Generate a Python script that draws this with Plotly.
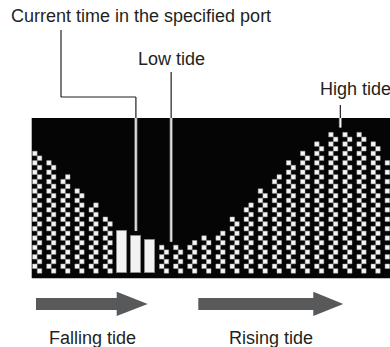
import plotly.graph_objects as go

# tide display: one column per time slot, height in dot rows
slots = list(range(26))
tide_rows = [26, 24, 21, 18, 15, 12, 9, 8, 7, 6, 6, 7, 8, 9, 12, 15,
             18, 21, 24, 26, 28, 30, 30, 30, 28, 25]
current_slots = [6, 7, 8]  # shown as solid bars
low_label = "Low tide"
high_label = "High tide"
current_label = "Current time in the specified port"
falling_label = "Falling tide"
rising_label = "Rising tide"

W, H = 390, 347
X0_PX, PITCH = 37.2, 14.1      # pixel centre of slot 0, slot spacing
Y0_PX, ROW = 273.3, 4.7        # pixel of row 0 base, row height


def px2x(px):
    return (px - X0_PX) / PITCH


def px2y(py):
    return (Y0_PX - py) / ROW


FONT = dict(family="Liberation Sans, Arial, sans-serif", size=18, color="#231f20")

# dots in a checker pattern, two sub-columns per slot
dot_x, dot_y = [], []
for s, h in zip(slots, tide_rows):
    if s in current_slots:
        continue
    for r in range(h):
        dot_x.append(s + (-1 / 6 if r % 2 else 1 / 6))
        dot_y.append(r + 0.5)

fig = go.Figure()

fig.add_trace(go.Scatter(
    x=dot_x, y=dot_y, mode="markers",
    marker=dict(symbol="square", size=4.5, color="#f6f6f6",
                line=dict(color="#a8a8a8", width=0.5)),
    hoverinfo="skip", cliponaxis=False
))

fig.add_trace(go.Bar(
    x=current_slots, y=[tide_rows[s] for s in current_slots],
    width=0.68, marker_color="#f2f2f2",
    marker_line=dict(color="#8c8c8c", width=1),
    hoverinfo="skip"
))

shapes = []
# black display panel
shapes.append(dict(type="rect", xref="x", yref="y", layer="below",
                   x0=px2x(31.7), x1=px2x(400), y0=px2y(278.3), y1=px2y(118),
                   fillcolor="#050505", line_width=0))

panel_top = px2y(118)


def leader(points):
    """points in data coords, top to bottom; split into outside/inside panel"""
    out, inside = [], []
    for (xa, ya), (xb, yb) in zip(points[:-1], points[1:]):
        if ya > panel_top and yb < panel_top:
            out.append(((xa, ya), (xb, panel_top)))
            inside.append(((xb, panel_top), (xb, yb)))
        elif yb >= panel_top:
            out.append(((xa, ya), (xb, yb)))
        else:
            inside.append(((xa, ya), (xb, yb)))
    for (a, b) in out:
        shapes.append(dict(type="line", xref="x", yref="y", x0=a[0], y0=a[1],
                           x1=b[0], y1=b[1], line=dict(color="#231f20", width=1.2)))
    for (a, b) in inside:
        shapes.append(dict(type="line", xref="x", yref="y", x0=a[0], y0=a[1],
                           x1=b[0], y1=b[1], line=dict(color="#8a8a8a", width=3)))
        shapes.append(dict(type="line", xref="x", yref="y", x0=a[0], y0=a[1],
                           x1=b[0], y1=b[1], line=dict(color="#ffffff", width=1.2)))


cur = current_slots[1]
leader([(px2x(61), px2y(30)), (px2x(61), px2y(97)), (cur, px2y(97)),
        (cur, tide_rows[cur] + 1)])
low_x = 9.5
leader([(low_x, px2y(72)), (low_x, min(tide_rows) + 0.7)])
high_x = 21.5
leader([(high_x, px2y(105)), (high_x, max(tide_rows) + 1)])


def arrow(x_start, x_neck, x_tip):
    ys0, ys1 = px2y(298), px2y(310)
    yh0, yh1, yc = px2y(291.7), px2y(316), px2y(304)
    path = (f"M {x_start},{ys0} L {x_neck},{ys0} L {x_neck},{yh0} L {x_tip},{yc} "
            f"L {x_neck},{yh1} L {x_neck},{ys1} L {x_start},{ys1} Z")
    shapes.append(dict(type="path", xref="x", yref="y", path=path,
                       fillcolor="#58595b", line_width=0))


arrow(px2x(36), px2x(116.7), px2x(147.7))
arrow(px2x(198.3), px2x(313.3), px2x(343.3))

annotations = [
    dict(text=current_label, x=px2x(9), y=px2y(16), xanchor="left", yanchor="middle"),
    dict(text=low_label, x=low_x, y=px2y(59), xanchor="center", yanchor="middle"),
    dict(text=high_label, x=px2x(318), y=px2y(89), xanchor="left", yanchor="middle"),
    dict(text=falling_label, x=px2x(92), y=px2y(338), xanchor="center", yanchor="middle"),
    dict(text=rising_label, x=px2x(271), y=px2y(338), xanchor="center", yanchor="middle"),
]
for a in annotations:
    a.update(xref="x", yref="y", showarrow=False, font=FONT)

fig.update_layout(
    width=W, height=H,
    margin=dict(l=0, r=0, t=0, b=0),
    paper_bgcolor="white", plot_bgcolor="white",
    showlegend=False,
    shapes=shapes, annotations=annotations,
    xaxis=dict(range=[px2x(0), px2x(W)], visible=False, fixedrange=True),
    yaxis=dict(range=[px2y(H), px2y(0)], visible=False, fixedrange=True),
    bargap=0,
)

fig.write_html("out.html", config={"displayModeBar": False},
               post_script="document.body.style.margin='0';document.body.style.overflow='hidden';")
